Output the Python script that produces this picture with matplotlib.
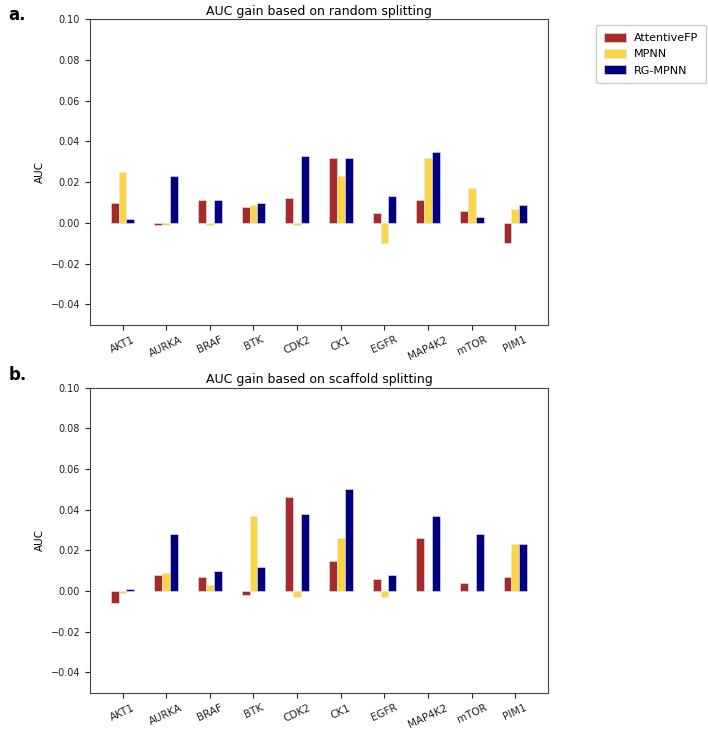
import numpy as np
import matplotlib
matplotlib.use('Agg')
import matplotlib.pyplot as plt

targets = ['AKT1', 'AURKA', 'BRAF', 'BTK', 'CDK2', 'CK1', 'EGFR', 'MAP4K2', 'mTOR', 'PIM1']
models = ['AttentiveFP', 'MPNN', 'RG-MPNN']
colors = ['#a52a2a', '#fad54a', '#00007f']

# AUC gain, random split
random_attfp = [0.010, -0.001, 0.011, 0.008, 0.012, 0.032, 0.005, 0.011, 0.006, -0.010]
random_mpnn = [0.025, -0.001, -0.001, 0.009, -0.001, 0.023, -0.010, 0.032, 0.017, 0.007]
random_rg = [0.002, 0.023, 0.011, 0.010, 0.033, 0.032, 0.013, 0.035, 0.003, 0.009]

# AUC gain, scaffold split
scaf_attfp = [-0.006, 0.008, 0.007, -0.002, 0.046, 0.015, 0.006, 0.026, 0.004, 0.007]
scaf_mpnn = [-0.001, 0.009, 0.003, 0.037, -0.003, 0.026, -0.003, 0.0, 0.0, 0.023]
scaf_rg = [0.001, 0.028, 0.010, 0.012, 0.038, 0.050, 0.008, 0.037, 0.028, 0.023]

plt.rcParams['font.size'] = 7
fig = plt.figure(figsize=(7.08, 7.30), dpi=100)
ax1 = fig.add_axes([0.127, 0.555, 0.647, 0.419])
ax2 = fig.add_axes([0.127, 0.051, 0.647, 0.418])

x = np.arange(len(targets))
w = 0.18

def draw(ax, series, title):
    for i, vals in enumerate(series):
        ax.bar(x + (i - 1) * w, vals, w, color=colors[i], edgecolor='#e8e8f0',
               linewidth=0.4, label=models[i])
    ax.set_xticks(x)
    ax.set_xticklabels(targets, rotation=25, fontsize=7.5)
    ax.set_ylim(-0.05, 0.1)
    ax.set_yticks([-0.04, -0.02, 0.0, 0.02, 0.04, 0.06, 0.08, 0.10])
    ax.set_ylabel('AUC', fontsize=7.5)
    ax.set_title(title, fontsize=9, pad=3)
    for s in ax.spines.values():
        s.set_color('#444444')
    ax.tick_params(colors='#222222')

draw(ax1, [random_attfp, random_mpnn, random_rg], 'AUC gain based on random splitting')
draw(ax2, [scaf_attfp, scaf_mpnn, scaf_rg], 'AUC gain based on scaffold splitting')

ax1.legend(loc='upper left', bbox_to_anchor=(0.834, 0.973), bbox_transform=fig.transFigure,
           fontsize=8, fancybox=True, framealpha=1.0, labelspacing=0.55,
           handletextpad=0.7, borderpad=0.7, handleheight=0.8)

fig.text(0.012, 0.979, 'a.', fontsize=12, fontweight='bold', va='center')
fig.text(0.012, 0.486, 'b.', fontsize=12, fontweight='bold', va='center')

fig.savefig('out.png', dpi=100)
